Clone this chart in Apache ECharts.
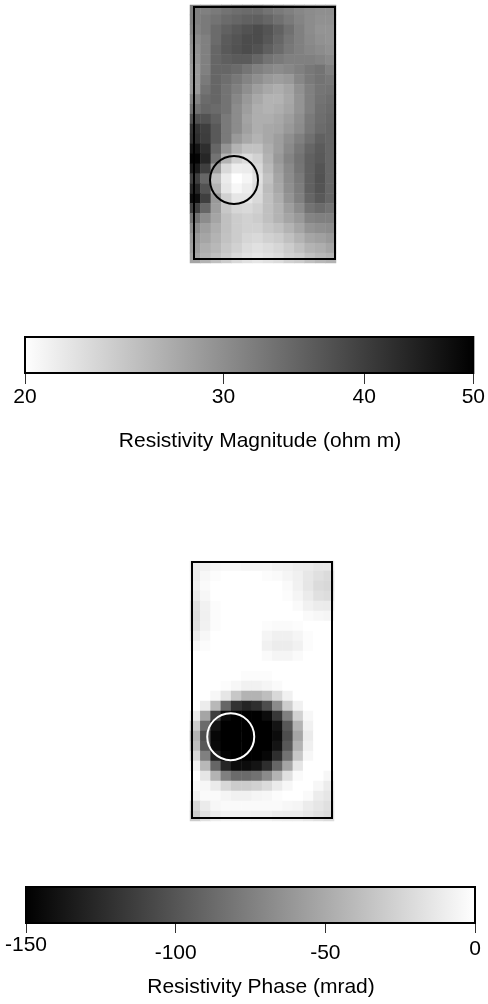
<!DOCTYPE html>
<html><head><meta charset="utf-8">
<script src="https://cdn.jsdelivr.net/npm/echarts@6/dist/echarts.min.js"></script>
<style>html,body{margin:0;padding:0;background:#fff}#c{width:488px;height:1004px}</style>
</head><body><div id="c"></div>
<script>
// Resistivity magnitude (ohm m), 26 rows (top to bottom) x 14 columns (left to right)
const magnitudeRows = [
[31.6,31.6,32.2,33.1,33.7,34.0,34.0,33.1,32.2,31.6,30.8,30.2,29.9,29.9],
[31.6,32.2,33.1,34.0,34.7,35.3,35.6,34.7,33.4,32.2,31.1,30.2,29.7,29.7],
[31.1,32.2,34.0,35.3,36.3,37.3,38.0,37.0,35.3,33.4,31.6,30.2,29.4,29.4],
[30.2,31.6,34.0,36.0,37.0,38.0,38.0,36.6,34.7,32.8,31.6,30.5,29.7,29.4],
[29.7,31.6,34.7,36.3,37.3,38.0,37.3,35.6,34.0,32.5,31.6,30.8,30.2,29.7],
[29.4,31.6,34.7,35.6,36.0,36.0,34.7,33.1,32.2,31.6,31.6,31.6,31.1,30.5],
[28.9,31.6,34.7,34.7,34.0,32.8,31.6,30.8,30.2,30.8,31.6,32.5,33.1,31.6],
[28.9,32.2,34.7,33.7,32.5,31.1,29.9,28.9,28.3,28.9,30.8,32.2,33.1,32.5],
[28.9,33.1,34.7,33.1,31.6,29.9,28.3,27.3,26.8,27.6,29.7,31.6,32.8,33.1],
[31.1,34.0,34.7,33.1,30.8,28.9,27.3,26.3,26.3,27.3,29.4,31.6,33.1,33.7],
[33.1,34.7,34.0,33.1,30.2,28.3,26.8,26.3,26.8,27.6,29.4,31.6,33.4,34.0],
[37.3,37.3,35.3,32.2,30.2,27.8,26.8,26.8,27.3,28.3,29.9,32.2,33.7,34.4],
[41.6,39.8,36.3,32.2,30.2,28.1,26.8,27.3,27.6,28.9,30.2,32.5,34.0,34.7],
[42.4,40.2,36.3,32.2,28.9,27.3,26.3,27.3,28.3,29.9,31.6,33.4,35.3,34.7],
[46.5,42.4,34.7,29.4,26.3,24.9,24.9,26.8,28.3,30.5,32.5,34.7,36.0,34.7],
[49.2,43.6,33.1,26.3,23.6,22.7,23.6,26.3,28.9,31.1,33.1,35.3,36.3,34.7],
[45.6,39.8,28.3,22.9,21.3,21.5,22.9,25.6,28.1,30.5,32.8,35.3,37.0,34.7],
[39.8,34.7,25.1,21.5,20.0,20.7,22.3,24.9,27.6,30.2,32.2,35.3,37.3,34.7],
[43.6,37.3,26.3,21.9,20.6,21.3,22.7,25.4,27.3,29.9,31.9,35.3,37.0,34.7],
[47.8,39.8,28.9,23.6,21.9,21.9,22.9,25.1,26.8,29.4,31.6,34.7,36.3,34.7],
[39.8,34.7,28.3,24.5,23.2,22.9,23.6,25.1,26.3,28.3,30.2,33.1,34.0,33.1],
[33.1,30.2,27.6,25.1,24.0,23.6,24.0,25.1,26.3,27.6,28.9,31.1,31.6,31.6],
[30.2,28.3,26.8,25.1,24.0,23.6,23.6,24.5,25.1,26.3,27.6,29.4,29.9,30.2],
[28.9,27.6,26.3,24.9,24.0,23.2,22.9,23.6,24.0,25.1,26.3,27.6,28.1,28.9],
[28.3,26.8,25.8,24.5,23.6,22.7,22.3,22.7,23.2,24.0,25.1,26.3,26.8,27.6],
[27.6,26.3,25.1,24.0,22.9,22.3,21.9,22.3,22.7,23.6,24.0,25.1,25.8,26.3]
];
// Resistivity phase (mrad), 26 rows x 14 columns
const phaseRows = [
[-12,-9,-6,-5,-5,-6,-6,-6,-8,-9,-11,-12,-15,-15],
[-11,-5,-2,0,0,0,0,-2,-3,-6,-9,-14,-18,-21],
[-9,-3,0,0,0,0,0,0,0,-3,-8,-15,-21,-23],
[-12,-5,0,0,0,0,0,0,0,-2,-6,-12,-18,-20],
[-18,-8,-2,0,0,0,0,0,0,0,-3,-8,-11,-12],
[-20,-9,-2,0,0,0,0,0,0,0,0,-3,-5,-6],
[-18,-8,-2,0,0,0,0,-2,-3,-3,-2,0,0,0],
[-12,-5,0,0,0,0,0,-6,-9,-9,-6,-2,0,0],
[-5,-2,0,0,0,0,0,-8,-11,-11,-8,-2,0,0],
[0,0,0,0,0,0,0,-3,-6,-6,-3,0,0,0],
[0,0,0,0,0,0,0,0,0,0,0,0,0,0],
[0,0,0,0,0,-2,-2,-2,0,0,0,0,0,0],
[0,0,0,-2,-5,-8,-8,-6,-3,0,0,0,0,0],
[0,0,-5,-15,-33,-45,-45,-38,-23,-8,0,0,0,0],
[0,-11,-42,-90,-120,-128,-123,-105,-68,-30,-8,0,0,0],
[-12,-53,-113,-144,-150,-150,-150,-143,-117,-75,-27,-5,0,0],
[-30,-87,-138,-150,-150,-150,-150,-150,-138,-98,-45,-8,0,0],
[-45,-105,-146,-150,-150,-150,-150,-150,-143,-105,-53,-12,0,0],
[-38,-98,-144,-150,-150,-150,-150,-150,-138,-98,-45,-9,0,0],
[-23,-75,-132,-147,-150,-150,-150,-146,-123,-83,-33,-5,0,0],
[-8,-42,-90,-128,-143,-143,-138,-123,-90,-53,-15,0,0,0],
[0,-15,-45,-75,-87,-87,-83,-68,-45,-18,-3,0,0,-5],
[-3,-5,-12,-23,-30,-30,-27,-21,-12,-5,0,0,-5,-11],
[-8,-3,-3,-6,-8,-8,-6,-5,-2,0,0,-3,-11,-15],
[-23,-12,-5,-3,-3,-3,-3,-3,-3,-5,-6,-11,-15,-18],
[-30,-18,-11,-8,-8,-8,-9,-9,-11,-12,-12,-15,-18,-21]
];
const magnitudeTicks = [20, 30, 40, 50];
const magnitudeRange = [20, 50];
const phaseTicks = [-150, -100, -50, 0];
const phaseRange = [-150, 0];
// anomaly (target) position in grid-cell units [column, row]
const anomalyTop = [4.22, 17.64];
const anomalyBottom = [3.96, 17.57];
const magnitudeTitle = 'Resistivity Magnitude (ohm m)';
const phaseTitle = 'Resistivity Phase (mrad)';

const NC = magnitudeRows[0].length, NR = magnitudeRows.length;
const colCats = Array.from({length: NC}, (_, i) => String(i));
const rowCats = Array.from({length: NR}, (_, i) => String(i));
const magData = [], phaseData = [];
magnitudeRows.forEach((row, r) => row.forEach((v, c) => magData.push([c, r, Math.log10(v)])));
phaseRows.forEach((row, r) => row.forEach((v, c) => phaseData.push([c, r, v])));

const FONT = '"Liberation Sans", Arial, sans-serif';
const G = {
  mag: {left: 190, top: 5, width: 146, height: 258},
  magBar: {left: 25, top: 337, width: 450, height: 36},
  pha: {left: 190, top: 561, width: 144, height: 260},
  phaBar: {left: 26, top: 887, width: 449, height: 36}
};

function barRenderer(whiteFirst) {
  return function (params, api) {
    const p0 = api.coord([api.value(0), 0]);
    const p1 = api.coord([api.value(1), 1]);
    const c0 = whiteFirst ? '#ffffff' : '#000000', c1 = whiteFirst ? '#000000' : '#ffffff';
    return {
      type: 'rect',
      shape: {x: Math.min(p0[0], p1[0]), y: Math.min(p0[1], p1[1]), width: Math.abs(p1[0] - p0[0]), height: Math.abs(p1[1] - p0[1])},
      style: {fill: new echarts.graphic.LinearGradient(0, 0, 1, 0, [{offset: 0, color: c0}, {offset: 1, color: c1}]), stroke: '#000', lineWidth: 2}
    };
  };
}
const hiddenCat = (gi, data, inv) => ({type: 'category', gridIndex: gi, data: data, show: false, inverse: !!inv, boundaryGap: true});
const hiddenVal = (gi, min, max, inv) => ({type: 'value', gridIndex: gi, min: min, max: max, show: false, inverse: !!inv});

const magLogTicks = magnitudeTicks.map(Math.log10);
const option = {
  backgroundColor: '#fff',
  animation: false,
  grid: [
    Object.assign({}, G.mag), Object.assign({}, G.magBar), Object.assign({}, G.pha), Object.assign({}, G.phaBar)
  ],
  xAxis: [
    hiddenCat(0, colCats),
    hiddenVal(0, 0, NC),
    {
      type: 'value', gridIndex: 1, min: Math.log10(magnitudeRange[0]), max: Math.log10(magnitudeRange[1]),
      axisLine: {show: false}, splitLine: {show: false},
      axisTick: {show: true, customValues: magLogTicks, length: 11, lineStyle: {color: '#333', width: 1}},
      axisLabel: {customValues: magLogTicks, formatter: v => String(Math.round(Math.pow(10, v))), fontSize: 21, color: '#000', fontFamily: FONT, margin: 14}
    },
    hiddenCat(2, colCats),
    hiddenVal(2, 0, NC),
    {
      type: 'value', gridIndex: 3, min: phaseRange[0], max: phaseRange[1], interval: 50,
      axisLine: {show: false}, splitLine: {show: false},
      axisTick: {show: true, customValues: phaseTicks, length: 10, lineStyle: {color: '#333', width: 1}},
      axisLabel: {
        customValues: phaseTicks, margin: 12,
        formatter: v => v === phaseTicks[0] ? '{a|' + v + '}' : (v === phaseTicks[3] ? '{c|' + v + '}' : '{b|' + v + '}'),
        rich: {
          a: {fontSize: 21, color: '#000', fontFamily: FONT},
          b: {fontSize: 21, color: '#000', fontFamily: FONT, padding: [8, 0, 0, 0]},
          c: {fontSize: 21, color: '#000', fontFamily: FONT, padding: [4, 0, 0, 0]}
        }
      }
    }
  ],
  yAxis: [
    hiddenCat(0, rowCats, true),
    hiddenVal(0, 0, NR, true),
    hiddenVal(1, 0, 1),
    hiddenCat(2, rowCats, true),
    hiddenVal(2, 0, NR, true),
    hiddenVal(3, 0, 1)
  ],
  visualMap: [
    {type: 'continuous', show: false, seriesIndex: 0, dimension: 2, min: Math.log10(magnitudeRange[0]), max: Math.log10(magnitudeRange[1]), inRange: {color: ['#ffffff', '#000000']}},
    {type: 'continuous', show: false, seriesIndex: 3, dimension: 2, min: phaseRange[0], max: phaseRange[1], inRange: {color: ['#000000', '#ffffff']}}
  ],
  series: [
    {type: 'heatmap', xAxisIndex: 0, yAxisIndex: 0, data: magData, itemStyle: {borderWidth: 0}, emphasis: {disabled: true}},
    {type: 'scatter', xAxisIndex: 1, yAxisIndex: 1, data: [anomalyTop], symbol: 'circle', symbolSize: 48, silent: true,
      itemStyle: {color: 'rgba(0,0,0,0)', borderColor: '#000', borderWidth: 2, opacity: 1}, z: 5},
    {type: 'custom', xAxisIndex: 2, yAxisIndex: 2, data: [[Math.log10(magnitudeRange[0]), Math.log10(magnitudeRange[1])]], renderItem: barRenderer(true), clip: false, silent: true},
    {type: 'heatmap', xAxisIndex: 3, yAxisIndex: 3, data: phaseData, itemStyle: {borderWidth: 0}, emphasis: {disabled: true}},
    {type: 'scatter', xAxisIndex: 4, yAxisIndex: 4, data: [anomalyBottom], symbol: 'circle', symbolSize: 47, silent: true,
      itemStyle: {color: 'rgba(0,0,0,0)', borderColor: '#fff', borderWidth: 2, opacity: 1}, z: 5},
    {type: 'custom', xAxisIndex: 5, yAxisIndex: 5, data: [[phaseRange[0], phaseRange[1]]], renderItem: barRenderer(false), clip: false, silent: true}
  ],
  graphic: [
    {type: 'rect', z: 100, silent: true, shape: {x: 194, y: 7, width: 141, height: 252}, style: {fill: 'none', stroke: '#000', lineWidth: 2}},
    {type: 'rect', z: 100, silent: true, shape: {x: 192, y: 562, width: 140, height: 256}, style: {fill: 'none', stroke: '#000', lineWidth: 2}},
    {type: 'text', z: 100, silent: true, style: {text: magnitudeTitle, x: 260, y: 441, textAlign: 'center', textVerticalAlign: 'middle', font: '21px ' + FONT, fill: '#000'}},
    {type: 'text', z: 100, silent: true, style: {text: phaseTitle, x: 261, y: 987, textAlign: 'center', textVerticalAlign: 'middle', font: '21px ' + FONT, fill: '#000'}}
  ]
};
const chart = echarts.init(document.getElementById('c'), null, {renderer: 'canvas'});
chart.setOption(option);
</script></body></html>
